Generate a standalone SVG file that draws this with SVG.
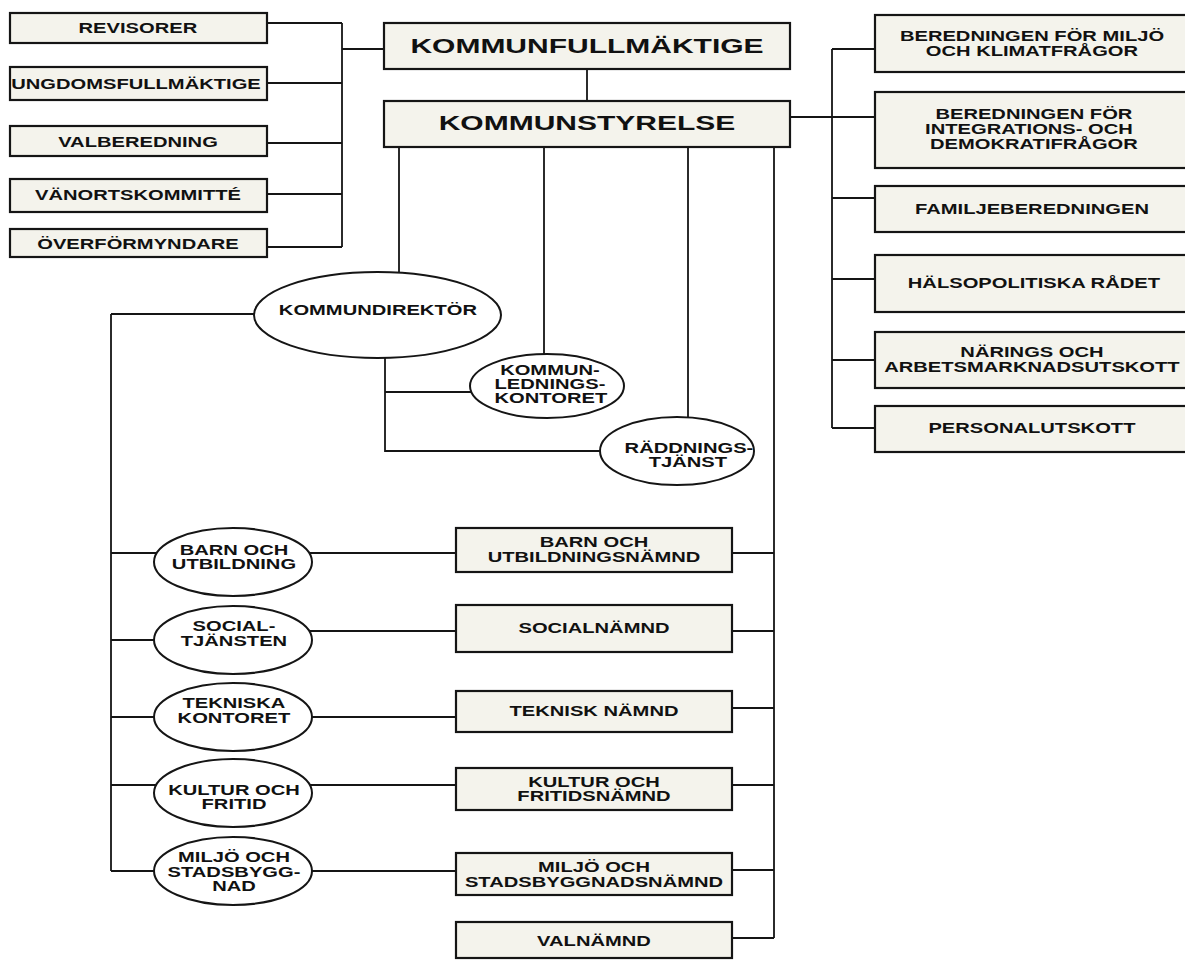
<svg xmlns="http://www.w3.org/2000/svg" width="1185" height="960" viewBox="0 0 1185 960">
<style>
.box{fill:#f4f3ec;stroke:#151515;stroke-width:2.2}
.ell{fill:#ffffff;stroke:#151515;stroke-width:2}
.ln{fill:none;stroke:#151515;stroke-width:1.8}
text{font-family:"Liberation Sans",Arial,sans-serif;font-weight:bold;fill:#111;text-anchor:middle}
.t{font-size:14px;transform-box:fill-box;transform-origin:center;transform:scaleX(1.44)}
.h{font-size:20px;transform-box:fill-box;transform-origin:center;transform:scaleX(1.5)}
</style>
<rect width="1185" height="960" fill="#ffffff"/>
<g id="connectors" class="ln">
<path d="M267 23H342M267 83H342M267 143H342M267 194H342M267 247H342M342 23V247M342 49H384"/>
<path d="M587 69V101"/>
<path d="M790 117H875M832 49V428M832 49H875M832 198H875M832 279H875M832 360H875M832 428H875"/>
<path d="M399 147V280M544 147V360M688 147V425M774 147V938"/>
<path d="M385 350V451H610M385 392H480"/>
<path d="M111 314V871M111 314H260M111 553H165M111 640H165M111 717H165M111 785H165M111 871H165"/>
<path d="M300 553H456M300 631H456M300 717H456M300 785H456M300 871H456"/>
<path d="M732 553H774M732 631H774M732 708H774M732 785H774M732 870H774M732 938H774"/>
</g>
<g id="revisorer"><rect class="box" x="10" y="13" width="257" height="30"/><text class="t" x="138" y="33">REVISORER</text></g>
<g id="ungdomsfullmaktige"><rect class="box" x="10" y="67" width="257" height="33"/><text class="t" x="136" y="89">UNGDOMSFULLMÄKTIGE</text></g>
<g id="valberedning"><rect class="box" x="10" y="126" width="257" height="30"/><text class="t" x="138" y="147">VALBEREDNING</text></g>
<g id="vanortskommitte"><rect class="box" x="10" y="179" width="257" height="33"/><text class="t" x="138" y="200">VÄNORTSKOMMITTÉ</text></g>
<g id="overformyndare"><rect class="box" x="10" y="229" width="257" height="28"/><text class="t" x="138" y="249">ÖVERFÖRMYNDARE</text></g>
<g id="kommunfullmaktige"><rect class="box" x="384" y="23" width="406" height="46"/><text class="h" x="587" y="53">KOMMUNFULLMÄKTIGE</text></g>
<g id="kommunstyrelse"><rect class="box" x="384" y="101" width="406" height="46"/><text class="h" x="587" y="130">KOMMUNSTYRELSE</text></g>
<g id="beredning-miljo"><rect class="box" x="875" y="15" width="312" height="57"/><text class="t" x="1032" y="41">BEREDNINGEN FÖR MILJÖ</text><text class="t" x="1032" y="56">OCH KLIMATFRÅGOR</text></g>
<g id="beredning-integration"><rect class="box" x="875" y="92" width="312" height="76"/><text class="t" x="1034" y="119">BEREDNINGEN FÖR</text><text class="t" x="1029" y="134">INTEGRATIONS- OCH</text><text class="t" x="1034" y="149">DEMOKRATIFRÅGOR</text></g>
<g id="familjeberedningen"><rect class="box" x="875" y="186" width="312" height="46"/><text class="t" x="1032" y="214">FAMILJEBEREDNINGEN</text></g>
<g id="halsopolitiska"><rect class="box" x="875" y="255" width="312" height="57"/><text class="t" x="1034" y="288">HÄLSOPOLITISKA RÅDET</text></g>
<g id="narings"><rect class="box" x="875" y="332" width="312" height="56"/><text class="t" x="1032" y="357">NÄRINGS OCH</text><text class="t" x="1032" y="372">ARBETSMARKNADSUTSKOTT</text></g>
<g id="personalutskott"><rect class="box" x="875" y="406" width="312" height="46"/><text class="t" x="1032" y="433">PERSONALUTSKOTT</text></g>
<g id="kommundirektor"><ellipse class="ell" cx="377.5" cy="315" rx="123.5" ry="43"/><text class="t" x="378" y="315">KOMMUNDIREKTÖR</text></g>
<g id="kommunledningskontoret"><ellipse class="ell" cx="547" cy="386" rx="77" ry="32"/><text class="t" x="550" y="375">KOMMUN-</text><text class="t" x="550" y="389">LEDNINGS-</text><text class="t" x="551" y="403">KONTORET</text></g>
<g id="raddningstjanst"><ellipse class="ell" cx="677" cy="451" rx="77" ry="34"/><text class="t" x="689" y="453">RÄDDNINGS-</text><text class="t" x="688" y="467">TJÄNST</text></g>
<g id="barn-ell"><ellipse class="ell" cx="233" cy="562" rx="79" ry="34"/><text class="t" x="234" y="555">BARN OCH</text><text class="t" x="234" y="569">UTBILDNING</text></g>
<g id="social-ell"><ellipse class="ell" cx="233" cy="640" rx="79" ry="34"/><text class="t" x="234" y="631">SOCIAL-</text><text class="t" x="234" y="646">TJÄNSTEN</text></g>
<g id="tekniska-ell"><ellipse class="ell" cx="233" cy="717" rx="79" ry="34"/><text class="t" x="234" y="708">TEKNISKA</text><text class="t" x="234" y="723">KONTORET</text></g>
<g id="kultur-ell"><ellipse class="ell" cx="233" cy="793" rx="79" ry="34"/><text class="t" x="234" y="795">KULTUR OCH</text><text class="t" x="234" y="809">FRITID</text></g>
<g id="miljo-ell"><ellipse class="ell" cx="233" cy="871" rx="79" ry="34"/><text class="t" x="234" y="862">MILJÖ OCH</text><text class="t" x="234" y="877">STADSBYGG-</text><text class="t" x="234" y="891">NAD</text></g>
<g id="barn-namnd"><rect class="box" x="456" y="528" width="276" height="44"/><text class="t" x="594" y="547">BARN OCH</text><text class="t" x="594" y="562">UTBILDNINGSNÄMND</text></g>
<g id="socialnamnd"><rect class="box" x="456" y="605" width="276" height="47"/><text class="t" x="594" y="633">SOCIALNÄMND</text></g>
<g id="teknisk-namnd"><rect class="box" x="456" y="691" width="276" height="41"/><text class="t" x="594" y="716">TEKNISK NÄMND</text></g>
<g id="kultur-namnd"><rect class="box" x="456" y="768" width="276" height="42"/><text class="t" x="594" y="787">KULTUR OCH</text><text class="t" x="594" y="801">FRITIDSNÄMND</text></g>
<g id="miljo-namnd"><rect class="box" x="456" y="853" width="276" height="42"/><text class="t" x="594" y="872">MILJÖ OCH</text><text class="t" x="594" y="887">STADSBYGGNADSNÄMND</text></g>
<g id="valnamnd"><rect class="box" x="456" y="922" width="276" height="36"/><text class="t" x="594" y="946">VALNÄMND</text></g>
</svg>
